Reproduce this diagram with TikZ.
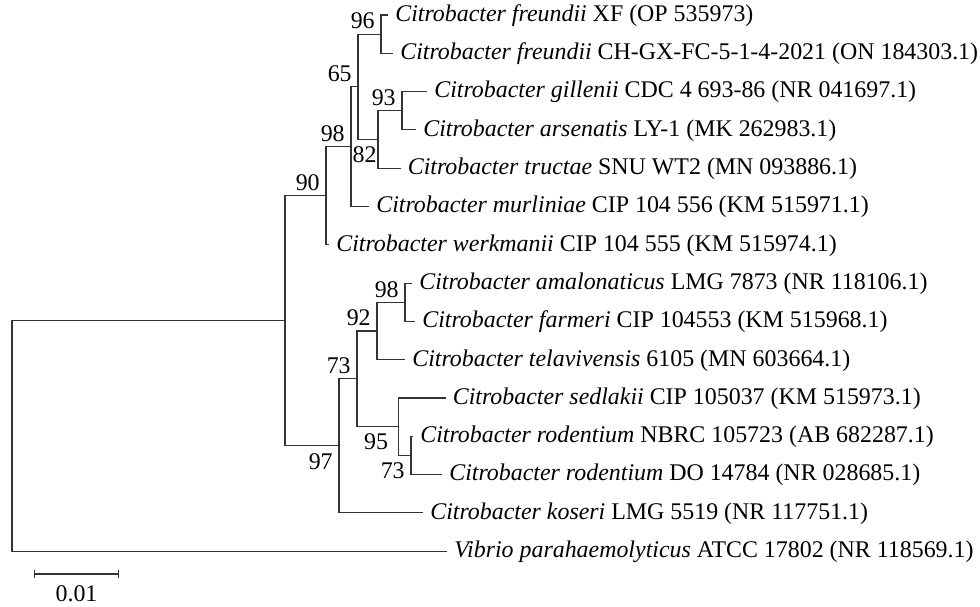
\documentclass[tikz,border=0pt]{standalone}
\usepackage{fontspec}
\setmainfont{Liberation Serif}
\usetikzlibrary{positioning,arrows.meta}
\definecolor{treeink}{HTML}{333333}

\begin{document}
\begin{tikzpicture}[
    x=0.025cm, y=-0.025cm,
    branch/.style={draw=treeink, line width=0.8pt},
    taxon/.style={anchor=west, inner xsep=5pt, inner ysep=0pt,
        text height=0.9em, text depth=0pt, font=\fontsize{17}{20}\selectfont},
    bsup/.style={anchor=south east, inner xsep=4.3pt, inner ysep=3.4pt,
        font=\fontsize{17}{20}\selectfont},
    bsdn/.style={anchor=north east, inner xsep=4.3pt, inner ysep=5pt,
        font=\fontsize{17}{20}\selectfont},
    scalebar/.style={draw=treeink, line width=0.8pt, {Bar[width=6pt]}-{Bar[width=6pt]}}
]
\useasboundingbox (0,0) rectangle (980,606);

% Taxa, one row each, top to bottom
\node[taxon] (lf1)  at (388,15)    {\textit{Citrobacter freundii} XF (OP 535973)};
\node[taxon] (lf2)  at (393,53.3)  {\textit{Citrobacter freundii} CH-GX-FC-5-1-4-2021 (ON 184303.1)};
\node[taxon] (lf3)  at (427,91.6)  {\textit{Citrobacter gillenii} CDC 4 693-86 (NR 041697.1)};
\node[taxon] (lf4)  at (416,129.9) {\textit{Citrobacter arsenatis} LY-1 (MK 262983.1)};
\node[taxon] (lf5)  at (400.5,168.2) {\textit{Citrobacter tructae} SNU WT2 (MN 093886.1)};
\node[taxon] (lf6)  at (369,206.5) {\textit{Citrobacter murliniae} CIP 104 556 (KM 515971.1)};
\node[taxon] (lf7)  at (329,244.8) {\textit{Citrobacter werkmanii} CIP 104 555 (KM 515974.1)};
\node[taxon] (lf8)  at (412,283.1) {\textit{Citrobacter amalonaticus} LMG 7873 (NR 118106.1)};
\node[taxon] (lf9)  at (415,321.4) {\textit{Citrobacter farmeri} CIP 104553 (KM 515968.1)};
\node[taxon] (lf10) at (405,359.7) {\textit{Citrobacter telavivensis} 6105 (MN 603664.1)};
\node[taxon] (lf11) at (445.5,398) {\textit{Citrobacter sedlakii} CIP 105037 (KM 515973.1)};
\node[taxon] (lf12) at (413,436.3) {\textit{Citrobacter rodentium} NBRC 105723 (AB 682287.1)};
\node[taxon] (lf13) at (442,474.6) {\textit{Citrobacter rodentium} DO 14784 (NR 028685.1)};
\node[taxon] (lf14) at (423,512.9) {\textit{Citrobacter koseri} LMG 5519 (NR 117751.1)};
\node[taxon] (lf15) at (447,551.2) {\textit{Vibrio parahaemolyticus} ATCC 17802 (NR 118569.1)};

% Internal nodes
\coordinate (n96)  at (381,34.2);
\coordinate (n93)  at (402,110.8);
\coordinate (n82)  at (378,139.5);
\coordinate (n65)  at (358,86.8);
\coordinate (n98a) at (351,146.7);
\coordinate (n90)  at (326,195.7);
\coordinate (n98b) at (405,302.3);
\coordinate (n92)  at (377,331);
\coordinate (n73b) at (411,455.5);
\coordinate (n95)  at (398.5,426.7);
\coordinate (n73a) at (357,378.9);
\coordinate (n97)  at (339,445.9);
\coordinate (nin)  at (285,320.8);
\coordinate (root) at (12,436);

% Branches
\draw[branch] (lf1.west) -| (n96) |- (lf2.west);
\draw[branch] (lf3.west) -| (n93) |- (lf4.west);
\draw[branch] (n93) -| (n82) |- (lf5.west);
\draw[branch] (n96) -| (n65) |- (n82);
\draw[branch] (n65) -| (n98a) |- (lf6.west);
\draw[branch] (n98a) -| (n90) |- (lf7.west);
\draw[branch] (lf8.west) -| (n98b) |- (lf9.west);
\draw[branch] (n98b) -| (n92) |- (lf10.west);
\draw[branch] (lf12.west) -| (n73b) |- (lf13.west);
\draw[branch] (lf11.west) -| (n95) |- (n73b);
\draw[branch] (n92) -| (n73a) |- (n95);
\draw[branch] (n73a) -| (n97) |- (lf14.west);
\draw[branch] (n90) -| (nin) |- (n97);
\draw[branch] (nin) -| (root) |- (lf15.west);

% Bootstrap values
\node[bsup] at (n96) {96};
\node[bsup] at (n65) {65};
\node[bsup] at (n93) {93};
\node[bsup] at (n98a) {98};
\node[bsdn, xshift=3.5pt] at (n82) {82};
\node[bsup] at (n90) {90};
\node[bsup] at (n98b) {98};
\node[bsup] at (n92) {92};
\node[bsup] at (n73a) {73};
\node[bsdn, xshift=-3pt] at (n95) {95};
\node[bsdn] at (n73b) {73};
\node[bsdn] at (n97) {97};

% Scale bar
\coordinate (sb0) at (34,574);
\coordinate (sb1) at (119,574);
\draw[scalebar] (sb0) -- node[midway, below=7.5pt, inner sep=0pt,
    font=\fontsize{17}{20}\selectfont] (sblabel) {0.01} (sb1);
\end{tikzpicture}
\end{document}
